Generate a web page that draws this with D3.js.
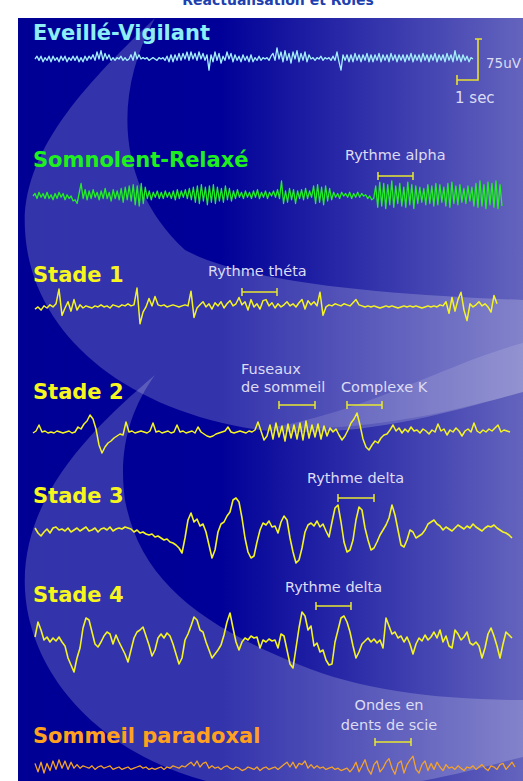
<!DOCTYPE html>
<html><head><meta charset="utf-8">
<script src="https://cdn.jsdelivr.net/npm/d3@7/dist/d3.min.js"></script>
<style>body{margin:0;background:#fff}svg{display:block}</style>
</head><body>
<svg id="c" width="523" height="781"></svg>
<script>
// ---- data (vertical offsets, positive = up) ----
const stageNames = ["Eveillé-Vigilant","Somnolent-Relaxé","Stade 1","Stade 2","Stade 3","Stade 4","Sommeil paradoxal"];
const eveil = [0,2,-1,2,-2,1,-1,2,-2,2,-1,1,-2,2,-1,2,-2,1,-1,2,-1,2,-2,1,-2,2,-1,2,0,
 3,-1,5,0,6,-1,4,0,3,
 -1,1,-1,1,0,2,-1,1,-1,0,
 3,-1,5,0,3,
 0,1,0,1,-1,0,1,0,-1,1,0,1,
 -1,2,-2,3,-2,3,-1,4,-1,4,0,5,-1,5,0,4,-1,5,0,4,-1,3,
 -8,
 3,-2,5,-1,4,-3,2,-1,5,0,4,-2,3,-1,
 2,-2,3,-1,2,-2,3,-2,1,-1,2,-1,1,0,
 1,-1,2,
 4,-1,8,0,5,-2,6,-1,4,-3,5,0,6,-2,4,-1,5,-2,3,
 0,1,-1,1,0,2,-1,1,0,1,-1,2,
 -1,5,-2,-8,3,-1,
 3,-2,3,-2,4,-1,3,-2,3,-1,4,-2,3,-2,3,-1,4,-2,3,-1,3,-2,4,-1,3,-2,3,-1,
 3,-2,3,-1,4,-2,3,-1,3,-2,4,-1,3,-2,3,-1,4,-2,3,-1,3,-2,4,-1,3,-2,6,-1,3,-2,3,-1,2,-2,1,0];
const somno = [0,2,-2,3,-1,2,-2,3,-2,1,-3,2,-2,3,-1,2,-3,1,-2,0,-4,-3,
 -6,2,10,-2,
 5,-3,4,-2,5,-1,3,-3,4,-2,6,-2,3,-4,5,-2,4,-3,6,-5,7,-3,8,-4,
 9,-7,8,-8,10,-6,7,
 -2,4,-3,3,-1,4,-2,3,-2,4,-1,3,-2,4,-3,5,-2,4,-1,5,-2,6,-3,
 7,-5,8,-6,9,-4,7,-7,8,-5,9,-6,7,-4,6,-5,8,-3,6,-4,
 4,-2,5,-1,3,-2,4,-1,3,-2,4,-1,5,-2,3,-1,4,-2,3,0,4,-1,5,-2,
 12,-6,
 4,-5,6,-3,5,-6,4,-2,5,-3,6,-2,4,-1,
 8,-6,9,-5,7,-7,8,-4,6,-3,
 3,-1,2,-2,3,0,2,-1,3,-2,2,-1,3,-1,2,0,1,-2,0,-3,-2,
 8,-9,11,-8,10,-10,9,-7,12,-9,8,-6,10,-8,7,-9,11,-7,9,-10,8,-6,7,-5,6,-7,9,-6,8,-8,10,-7,9,-5,7,-8,10,-9,11,-6,8,-7,9,-5,6,-6,8,-4,7,-8,10,-9,12,-8,9,-10,11,-7,10,-9,12,-10,9,-8];
const stade1 = [-1,1,-2,2,0,3,1,
 4,18,-7,0,
 6,-3,8,-2,3,
 0,2,1,0,2,1,3,1,2,0,3,2,1,3,2,4,2,3,
 19,-15,-4,1,
 9,2,11,3,
 2,3,1,2,3,2,1,2,3,2,
 16,-9,0,
 3,6,1,4,-1,5,2,6,0,4,7,2,
 4,10,3,6,-2,8,1,4,-1,7,8,
 2,5,0,4,1,3,6,2,4,1,5,
 8,-1,7,3,6,2,
 15,-7,1,
 3,2,4,3,2,4,3,2,5,
 8,3,2,
 1,2,1,2,1,0,1,2,1,2,1,0,1,2,1,2,1,2,1,0,1,2,1,2,1,3,2,
 6,-5,10,-3,8,15,-2,-12,4,1,
 3,6,2,4,1,-4,12,4];
const stade2 = [0,2,8,1,
 2,0,1,0,2,1,0,1,2,0,1,6,
 4,9,12,18,
 14,4,-12,-20,
 -14,-10,-8,-5,-3,-1,-2,
 11,
 1,2,0,1,2,1,0,2,
 10,
 1,2,0,1,2,0,1,
 8,
 1,2,0,1,2,0,6,1,-1,-3,-4,-3,-1,0,1,2,
 6,
 1,0,1,2,1,0,2,1,3,
 11,2,-7,
 -3,8,-6,10,-4,7,-8,9,-5,8,-6,10,-7,12,-5,8,-4,9,-6,7,-3,5,
 1,4,-2,-7,-3,
 3,10,14,20,
 8,-6,-14,-17,
 -12,-8,-10,-5,-2,-1,
 3,8,2,5,0,4,1,6,2,3,0,4,2,-1,3,1,9,2,4,-2,3,1,5,2,-3,2,4,1,10,2,0,3,1,4,2,5,8,1,3,2,1];
const stade3 = [2,-3,-6,-2,1,-3,2,3,0,1,-1,2,-2,0,2,-1,1,3,-1,0,2,-2,1,2,0,3,-1,1,2,1,3,
 2,1,-2,0,-3,-2,-4,-5,-4,-7,-6,-8,-10,-9,-12,-13,-15,-18,-23,
 -8,10,17,
 8,11,4,6,-2,
 -15,-28,-20,
 -2,6,8,14,18,30,32,28,
 12,-8,-22,-28,
 -26,-12,0,7,
 5,9,3,4,-3,8,14,
 10,-8,-22,-33,
 -30,-18,-2,
 5,7,4,9,3,6,-1,
 -7,8,22,
 25,8,-12,
 -22,-20,-10,
 10,23,20,
 2,-10,-20,-18,-12,
 -5,0,5,12,25,
 15,0,-15,-17,-10,
 0,-2,-8,-6,-4,
 0,6,8,
 10,6,4,0,3,1,-1,2,5,3,1,4,2,6,3,1,-1,2,4,3,5,2,0,-2,-3,-5,-8];
const stade4 = [3,18,10,0,3,-2,2,-1,3,-2,-6,-18,-25,-32,-18,-8,12,22,20,8,
 -4,-7,-2,4,8,6,-4,5,-2,-8,-14,-22,-10,2,8,10,13,4,-5,-16,
 -10,2,6,2,7,4,-4,-14,-24,-18,0,6,14,23,20,10,8,-2,-10,-18,
 -14,-10,-5,5,18,27,12,-2,-10,-2,2,0,4,2,3,-8,0,-2,1,-1,
 0,-8,6,4,-10,-24,-28,-8,12,28,24,10,14,-6,-3,-12,-10,-20,-25,-24,
 -2,10,22,24,18,8,-6,-18,-12,-4,-1,2,-2,1,-3,0,-8,22,14,6,
 8,2,4,-2,3,-4,-14,-4,2,-1,5,0,3,8,2,10,-2,4,-6,-8,
 10,6,0,3,8,-3,-5,-2,-6,-18,-8,6,12,4,-6,-18,-4,8,5,2];
const paradox = [3,-4,4,-5,3,-3,5,-2,6,-1,5,-2,4,-1,2,
 -1,1,0,-1,1,-2,0,1,-1,0,1,-2,-1,0,-2,-1,0,-2,-1,0,1,-1,0,-2,-1,-2,-1,0,-2,
 0,-1,1,0,-1,1,0,
 2,4,1,5,0,3,4,-1,1,
 -1,0,-2,0,1,-1,-2,0,-1,-3,-2,0,-1,-2,0,-3,-1,0,-2,-1,0,-2,0,
 2,4,0,4,-1,3,2,5,-1,2,
 -1,1,-1,0,-2,-1,0,-2,-1,-3,-2,-1,-4,
 -1,4,-4,1,6,-2,-6,2,5,-4,-1,4,7,-1,-6,3,5,-5,2,6,9,-2,
 -5,2,5,-3,3,-2,4,0,-3,2,-1,0,-2,1,-1,-3,0,-1,1,-2,0,2,-1,-3,1,0,-2,2,3,-2,1,4,0];
const seriesValues = [eveil, somno, stade1, stade2, stade3, stade4, paradox];
const annotationTexts = [["Rythme alpha"],["Rythme théta"],["Fuseaux","de sommeil"],["Complexe K"],["Rythme delta"],["Rythme delta"],["Ondes en","dents de scie"]];
const scaleLabels = ["75uV","1 sec"];
const topTitle = "Réactualisation et Rôles";

// ---- layout ----
const layout = [
 {x0:35,x1:473,cy:59,k:1.4,color:"#a4f0fa",lc:"#8deef6",ly:40,sw:1.3},
 {x0:33,x1:502,cy:196,k:1.25,color:"#22f022",lc:"#1ef01e",ly:167,sw:1.3},
 {x0:35,x1:497,cy:308,k:1.05,color:"#f4f424",lc:"#f6f61e",ly:282,sw:1.5},
 {x0:33,x1:510,cy:433,k:1.0,color:"#f4f424",lc:"#f6f61e",ly:399,sw:1.5},
 {x0:35,x1:512,cy:530,k:1.0,color:"#f4f424",lc:"#f6f61e",ly:503,sw:1.6},
 {x0:35,x1:512,cy:640,k:1.0,color:"#f4f424",lc:"#f6f61e",ly:602,sw:1.6},
 {x0:35,x1:515,cy:767,k:1.2,color:"#f4a22a",lc:"#ffa01e",ly:743,sw:1.3}
];
const annLayout = [
 {x:345,y:[160],anchor:"start",b:[378,413,176]},
 {x:208,y:[276],anchor:"start",b:[242,277,292]},
 {x:241,y:[374,392],anchor:"start",b:[279,315,405]},
 {x:341,y:[392],anchor:"start",b:[347,382,405]},
 {x:307,y:[483],anchor:"start",b:[338,374,498]},
 {x:285,y:[592],anchor:"start",b:[316,351,606]},
 {x:389,y:[710,730],anchor:"middle",b:[375,411,742]}
];

const svg = d3.select("#c");
const defs = svg.append("defs");
const g = defs.append("linearGradient").attr("id","bg").attr("gradientUnits","userSpaceOnUse")
  .attr("x1",18).attr("y1",0).attr("x2",523).attr("y2",0);
g.append("stop").attr("offset",0).attr("stop-color","#000095");
g.append("stop").attr("offset",0.40).attr("stop-color","#000098");
g.append("stop").attr("offset",1).attr("stop-color","#6464be");

// top cut title
svg.append("text").attr("x",278).attr("y",5).attr("text-anchor","middle")
  .attr("font-family","DejaVu Sans").attr("font-weight","bold").attr("font-size",14)
  .attr("fill","#2040b0").text(topTitle);

svg.append("rect").attr("x",18).attr("y",18).attr("width",505).attr("height",763).attr("fill","url(#bg)");

const clip = defs.append("clipPath").attr("id","panel");
clip.append("rect").attr("x",18).attr("y",18).attr("width",505).attr("height",763);
const bgG = svg.append("g").attr("clip-path","url(#panel)");
const arrows = [
 {d:"M155,18 C90,80 20,150 25,230 C30,330 120,410 260,430 C360,440 450,412 523,392 L523,300 C400,295 250,285 185,250 C120,190 110,100 155,18 Z", o:0.2},
 {d:"M270,428 C370,410 450,362 523,343 L523,392 C450,412 370,432 270,428 Z", o:0.13},
 {d:"M155,375 C90,430 20,500 25,590 C30,680 110,770 250,790 C380,800 470,770 523,757 L523,700 C440,700 360,690 300,665 C200,625 140,580 125,500 C118,450 130,410 155,375 Z", o:0.2}
];
bgG.selectAll("path.arrow").data(arrows).join("path").attr("class","arrow")
  .attr("d",d=>d.d).attr("fill","#ffffff").attr("fill-opacity",d=>d.o);

// traces
layout.forEach((L,i)=>{
  const vals = seriesValues[i];
  const x = d3.scaleLinear().domain([0, vals.length-1]).range([L.x0, L.x1]);
  const y = d3.scaleLinear().domain([-20,20]).range([L.cy+20*L.k, L.cy-20*L.k]);
  const line = d3.line().x((d,j)=>x(j)).y(d=>y(d));
  svg.append("path").attr("d", line(vals)).attr("fill","none")
    .attr("stroke", L.color).attr("stroke-width", L.sw).attr("stroke-linejoin","round");
  svg.append("text").attr("x",33).attr("y",L.ly)
    .attr("font-family","DejaVu Sans").attr("font-weight","bold").attr("font-size",21)
    .attr("fill",L.lc).text(stageNames[i]);
});

// annotations
const yel = "#e8e830";
annLayout.forEach((A,i)=>{
  annotationTexts[i].forEach((t,j)=>{
    svg.append("text").attr("x",A.x).attr("y",A.y[j]).attr("text-anchor",A.anchor)
      .attr("font-family","DejaVu Sans").attr("font-size",14.5).attr("fill","#dcdcf2").text(t);
  });
  const [bx0,bx1,by] = A.b;
  svg.append("path").attr("d",`M${bx0},${by-4}V${by+4}M${bx0},${by}H${bx1}M${bx1},${by-4}V${by+4}`)
    .attr("stroke",yel).attr("stroke-width",1.5).attr("fill","none");
});

// scale bar
const uv = d3.scaleLinear().domain([0,75]).range([80,39]);
const sec = d3.scaleLinear().domain([0,1]).range([478,457]);
svg.append("path").attr("d",`M475,${uv(75)}H482M${sec(0)},${uv(75)}V${uv(0)}H${sec(1)}M${sec(1)},${uv(0)-5}V${uv(0)+5}`)
  .attr("stroke","#e8e030").attr("stroke-width",1.6).attr("fill","none");
svg.append("text").attr("x",486).attr("y",68).attr("font-family","DejaVu Sans").attr("font-size",13.5).attr("fill","#dcdcf2").text(scaleLabels[0]);
svg.append("text").attr("x",455).attr("y",103).attr("font-family","DejaVu Sans").attr("font-size",15).attr("fill","#dcdcf2").text(scaleLabels[1]);
</script>
</body></html>
